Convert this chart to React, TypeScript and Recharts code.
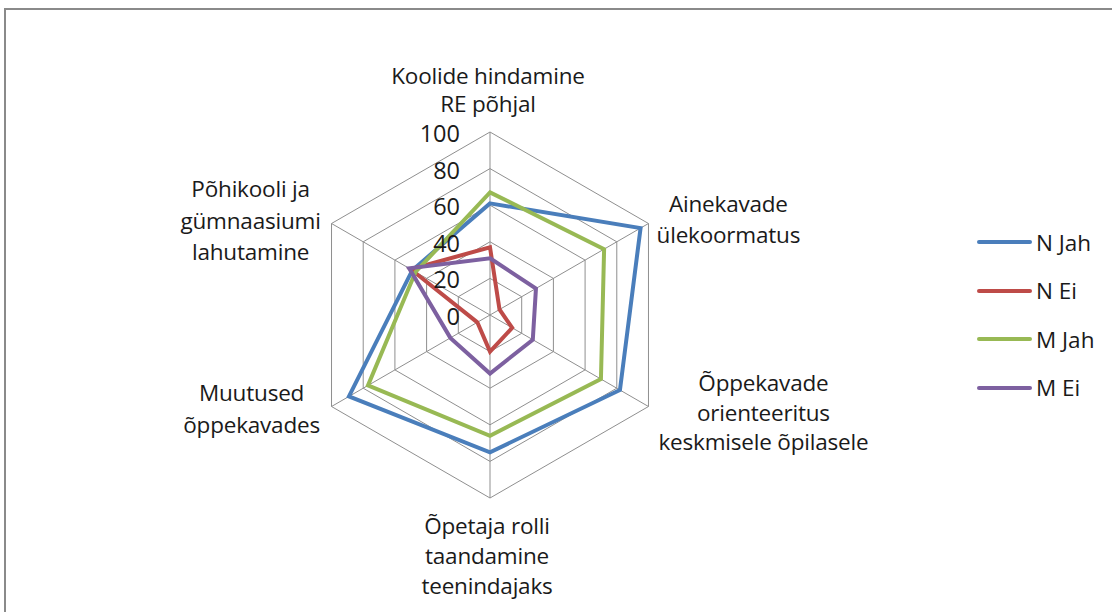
import React from 'react';
import { RadarChart, Radar, PolarGrid, PolarAngleAxis, PolarRadiusAxis, Legend } from 'recharts';

const categories = [
  'Koolide hindamine|RE põhjal',
  'Ainekavade|ülekoormatus',
  'Õppekavade|orienteeritus|keskmisele õpilasele',
  'Õpetaja rolli|taandamine|teenindajaks',
  'Muutused|õppekavades',
  'Põhikooli ja|gümnaasiumi|lahutamine',
];
const nJah = [61, 95, 82, 75, 89, 49];
const nEi = [37, 6, 14, 20, 8, 50];
const mJah = [67, 72, 70, 66, 77, 47];
const mEi = [31, 29, 27, 32, 25, 51];
const radiusTicks = [0, 20, 40, 60, 80, 100];

const seriesNames = ['N Jah', 'N Ei', 'M Jah', 'M Ei'];
const seriesColors = ['#4A7EBB', '#BE4B48', '#98B954', '#7D60A0'];

const data = categories.map((c, i) => ({
  cat: c,
  'N Jah': nJah[i],
  'N Ei': nEi[i],
  'M Jah': mJah[i],
  'M Ei': mEi[i],
}));

const FONT = '"Open Sans", Lato, sans-serif';

// label layout offsets relative to the tick anchor: [dx, dy of first line center, line gap]
const labelLayout: Array<[number, number, number]> = [
  [-2, -49, 28],
  [73, -16, 31],
  [108, -28, 29.5],
  [-3, 19, 30],
  [-73, -18, 32],
  [-74, -31, 31.5],
];

const AngleTick = (props: any) => {
  const { x, y, payload, index } = props;
  const lines = String(payload.value).split('|');
  const [dx, dy, gap] = labelLayout[index] || [0, 0, 30];
  return (
    <g>
      {lines.map((l, k) => (
        <text
          key={k}
          x={x + dx}
          y={y + dy + k * gap}
          textAnchor="middle"
          dominantBaseline="central"
          fontFamily={FONT}
          fontSize={22.5}
          letterSpacing={-0.2}
          fill="#1a1a1a"
        >
          {l}
        </text>
      ))}
    </g>
  );
};

const RadiusTick = (props: any) => {
  const { x, y, payload } = props;
  return (
    <text
      x={x - 30}
      y={y + 1}
      textAnchor="end"
      dominantBaseline="central"
      fontFamily={FONT}
      fontSize={23.5}
      fill="#1a1a1a"
    >
      {payload.value}
    </text>
  );
};

const LegendContent = () => (
  <div style={{ fontFamily: FONT, fontSize: 22.5, color: '#1a1a1a' }}>
    {seriesNames.map((n, i) => (
      <div key={n} style={{ display: 'flex', alignItems: 'center', height: 48.5 }}>
        <div style={{ width: 55, height: 4, borderRadius: 2, background: seriesColors[i], marginRight: 4 }} />
        <span>{n}</span>
      </div>
    ))}
  </div>
);

export default function App() {
  return (
    <div style={{ position: 'fixed', left: 0, top: 0, width: 1112, height: 612, background: '#fff', overflow: 'hidden' }}>
      <div
        style={{
          position: 'absolute',
          left: 4,
          top: 8,
          width: 1200,
          height: 700,
          borderTop: '2px solid #8a8a8a',
          borderLeft: '2px solid #8a8a8a',
        }}
      />
      <div style={{ position: 'absolute', left: 0, top: 0 }}>
        <RadarChart width={1112} height={612} data={data} cx={490} cy={315} outerRadius={183} startAngle={90} endAngle={-270}>
          <PolarGrid gridType="polygon" stroke="#8f8f8f" strokeWidth={1} />
          <PolarAngleAxis dataKey="cat" tick={<AngleTick />} tickLine={false} axisLine={false} />
          <PolarRadiusAxis
            angle={90}
            domain={[0, 100]}
            ticks={radiusTicks}
            tickCount={6}
            axisLine={false}
            tickLine={false}
            tick={<RadiusTick />}
          />
          {seriesNames.map((n, i) => (
            <Radar
              key={n}
              name={n}
              dataKey={n}
              stroke={seriesColors[i]}
              strokeWidth={4}
              fill="none"
              fillOpacity={0}
              dot={false}
              isAnimationActive={false}
            />
          ))}
          <Legend
            content={<LegendContent />}
            wrapperStyle={{ position: 'absolute', left: 977, top: 218, width: 130 }}
          />
        </RadarChart>
      </div>
    </div>
  );
}
